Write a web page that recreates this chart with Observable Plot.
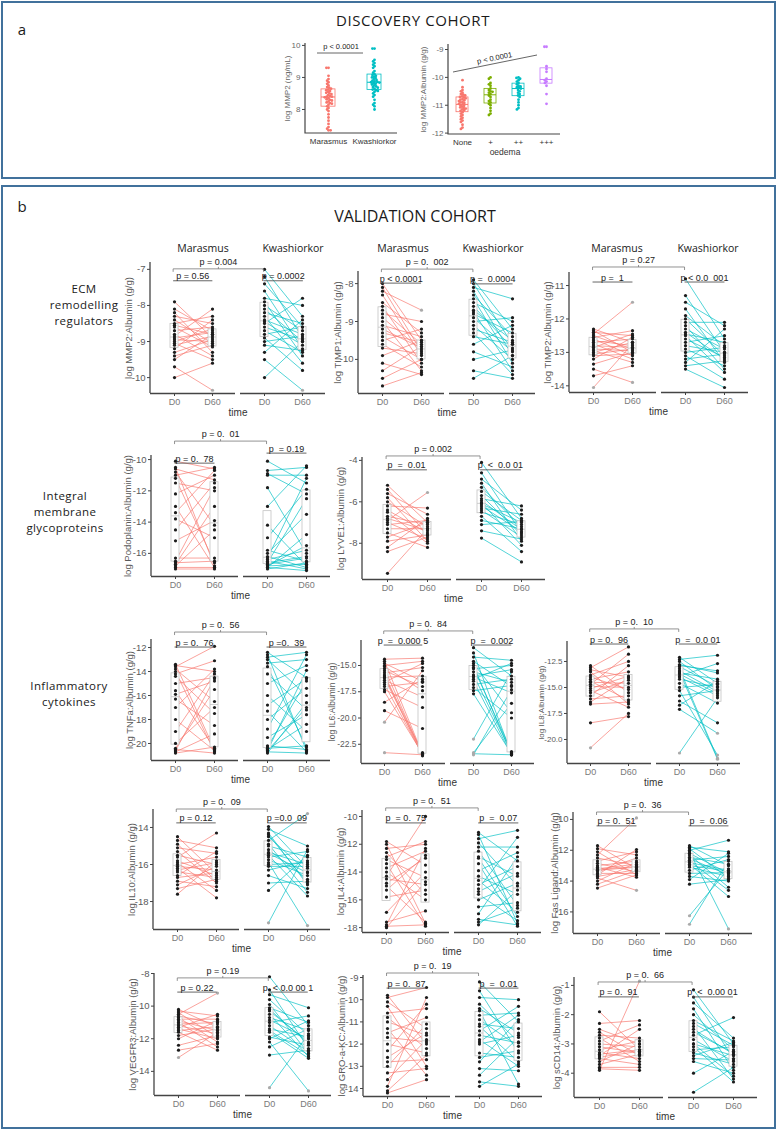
<!DOCTYPE html>
<html><head><meta charset="utf-8">
<script src="https://cdn.jsdelivr.net/npm/d3@7"></script>
<script src="https://cdn.jsdelivr.net/npm/@observablehq/plot@0.6"></script>
<style>
body{margin:0;background:#fff;}
#root{position:relative;width:777px;height:1130px;overflow:hidden;background:#fff;}
.t{position:absolute;white-space:pre;transform:translate(-50%,-50%);color:#1a1a1a;line-height:1;}
.frame{position:absolute;border:2.5px solid #41719c;box-sizing:border-box;}
svg.plot{position:absolute;overflow:visible;}
</style></head><body><div id="root"></div>
<script>
const FONT = "'Liberation Sans', Arial, sans-serif";
const HFONT = "'Open Sans', sans-serif";

// ---------- categories ----------
const GROUPS = ["Marasmus", "Kwashiorkor"];
const TIMES = ["D0", "D60"];
const GROUP_COLORS = ["#F8766D", "#00BFC4"];
const OEDEMA = ["None", "+", "++", "+++"];
const OEDEMA_COLORS = ["#F8766D", "#7CAE00", "#00BFC4", "#C77CFF"];

// ---------- panel a: discovery cohort ----------
const A_MMP2_MAR = [9.3,9.3,9.05,8.95,8.9,8.85,8.8,8.75,8.7,8.68,8.65,8.62,8.6,8.58,8.55,8.52,8.5,8.48,8.45,8.42,8.4,8.4,8.38,8.35,8.32,8.3,8.28,8.25,8.22,8.2,8.18,8.15,8.1,8.05,8.0,7.95,7.85,7.75,7.65,7.55,7.45,7.4,7.35,7.35];
const A_MMP2_KWA = [9.9,9.9,9.55,9.5,9.45,9.4,9.35,9.3,9.2,9.15,9.1,9.08,9.05,9.02,9.0,8.98,8.95,8.92,8.9,8.88,8.86,8.85,8.84,8.82,8.8,8.78,8.75,8.72,8.7,8.68,8.65,8.62,8.6,8.58,8.55,8.5,8.45,8.4,8.3,8.2,8.15,8.1,8.0];
const A_OED_NONE = [-10.1,-10.35,-10.45,-10.5,-10.55,-10.6,-10.62,-10.65,-10.68,-10.7,-10.72,-10.75,-10.78,-10.8,-10.82,-10.85,-10.88,-10.9,-10.92,-10.95,-10.97,-11.0,-11.02,-11.05,-11.08,-11.1,-11.12,-11.15,-11.18,-11.2,-11.25,-11.3,-11.35,-11.4,-11.45,-11.5,-11.55,-11.6,-11.7,-11.8,-11.85];
const A_OED_P1 = [-10.0,-10.05,-10.2,-10.25,-10.3,-10.4,-10.45,-10.5,-10.52,-10.55,-10.6,-10.65,-10.7,-10.8,-10.85,-10.9,-10.95,-11.0,-11.1,-11.2,-11.3,-11.35];
const A_OED_P2 = [-10.0,-10.02,-10.05,-10.1,-10.15,-10.2,-10.25,-10.3,-10.32,-10.35,-10.38,-10.4,-10.45,-10.5,-10.55,-10.6,-10.65,-10.7,-10.8,-10.9,-11.0,-11.1,-11.15];
const A_OED_P3 = [-8.9,-8.9,-9.6,-9.7,-9.8,-10.05,-10.1,-10.15,-10.2,-10.3,-10.6,-10.95];

// ---------- panel b: validation cohort, [D0, D60] per child ----------
const MMP2_MAR = [[-7.9,-8.9],[-8.1,-8.7],[-8.2,-9.3],[-8.3,-8.5],[-8.4,-9.05],[-8.5,-8.3],[-8.55,-8.8],[-8.6,-9.15],[-8.7,-8.6],[-8.8,-9.4],[-8.85,-8.1],[-8.9,-8.75],[-8.95,-9.0],[-9.0,-8.65],[-9.05,-9.5],[-9.1,-8.85],[-9.2,-8.4],[-9.3,-8.95],[-9.4,-9.1],[-9.5,-8.8],[-9.7,-10.35],[-10.0,-9.6]];
const MMP2_KWA = [[-7.0,-8.3],[-7.2,-8.9],[-7.4,-8.6],[-7.6,-9.2],[-7.8,-8.0],[-7.9,-9.4],[-8.0,-8.7],[-8.1,-9.0],[-8.2,-8.5],[-8.3,-9.6],[-8.4,-8.8],[-8.45,-9.1],[-8.5,-7.8],[-8.6,-8.95],[-8.7,-9.3],[-8.8,-8.6],[-8.9,-9.8],[-9.0,-8.85],[-9.1,-9.25],[-9.3,-8.4],[-9.5,-10.35],[-10.0,-9.0]];
const TIMP1_MAR = [[-8.0,-9.5],[-8.1,-9.8],[-8.2,-8.7],[-8.3,-9.9],[-8.5,-9.3],[-8.6,-10.1],[-8.7,-9.6],[-8.8,-9.0],[-8.9,-9.75],[-9.0,-10.3],[-9.1,-9.4],[-9.2,-9.7],[-9.3,-9.55],[-9.4,-10.0],[-9.5,-9.2],[-9.6,-10.2],[-9.7,-9.85],[-9.9,-9.5],[-10.1,-10.4],[-10.3,-9.65],[-10.5,-10.0],[-10.7,-10.35]];
const TIMP1_KWA = [[-7.9,-9.2],[-8.0,-9.6],[-8.1,-8.4],[-8.2,-9.9],[-8.3,-9.4],[-8.4,-10.1],[-8.5,-9.0],[-8.6,-9.7],[-8.7,-9.5],[-8.75,-10.3],[-8.8,-9.3],[-8.9,-9.8],[-9.0,-8.9],[-9.1,-10.0],[-9.2,-9.55],[-9.3,-10.4],[-9.4,-9.6],[-9.6,-9.1],[-9.8,-10.2],[-10.0,-9.75],[-10.3,-10.5],[-10.5,-9.9]];
const TIMP2_MAR = [[-12.3,-12.7],[-12.35,-13.0],[-12.4,-12.5],[-12.45,-11.5],[-12.5,-12.9],[-12.55,-12.35],[-12.6,-13.1],[-12.65,-12.8],[-12.7,-12.6],[-12.75,-13.2],[-12.8,-12.85],[-12.85,-12.45],[-12.9,-12.95],[-12.95,-13.3],[-13.0,-12.7],[-13.05,-12.9],[-13.1,-13.05],[-13.2,-12.55],[-13.35,-13.0],[-13.5,-13.9],[-13.7,-13.4],[-14.05,-12.75]];
const TIMP2_KWA = [[-10.8,-12.6],[-11.3,-13.0],[-11.5,-12.2],[-11.7,-13.3],[-11.9,-12.8],[-12.0,-13.1],[-12.1,-12.1],[-12.2,-13.5],[-12.3,-12.9],[-12.4,-13.2],[-12.45,-12.7],[-12.5,-13.6],[-12.6,-13.15],[-12.7,-12.5],[-12.8,-13.0],[-12.9,-13.4],[-13.0,-12.85],[-13.1,-13.8],[-13.2,-13.05],[-13.3,-12.3],[-13.4,-13.25],[-13.5,-14.05]];
const PODO_MAR = [[-10.1,-10.6],[-10.5,-16.8],[-10.6,-11.3],[-10.8,-14.2],[-11.0,-10.5],[-11.2,-16.6],[-11.5,-12.0],[-12.2,-11.0],[-13.0,-16.9],[-13.4,-10.7],[-13.8,-15.0],[-14.5,-11.5],[-15.2,-13.9],[-16.3,-16.3],[-16.5,-11.8],[-16.6,-16.5],[-16.8,-14.5],[-16.9,-16.9],[-17.0,-17.0],[-16.7,-13.0]];
const PODO_KWA = [[-10.1,-11.5],[-10.7,-10.5],[-10.9,-12.2],[-11.0,-11.0],[-11.8,-16.0],[-13.0,-10.4],[-14.2,-16.8],[-15.0,-11.9],[-15.8,-16.5],[-16.0,-13.5],[-16.2,-16.9],[-16.3,-11.2],[-16.4,-15.8],[-16.5,-17.0],[-16.6,-12.5],[-16.7,-16.3],[-16.8,-16.7],[-16.9,-14.8],[-17.0,-16.6],[-16.9,-17.1],[-16.6,-16.2],[-16.8,-15.5]];
const LYVE_MAR = [[-5.2,-7.0],[-5.4,-7.6],[-5.6,-6.6],[-5.8,-7.9],[-6.0,-7.2],[-6.2,-6.3],[-6.4,-7.5],[-6.5,-8.0],[-6.7,-7.1],[-6.8,-7.4],[-6.9,-5.55],[-7.0,-7.8],[-7.1,-6.9],[-7.3,-7.3],[-7.5,-8.2],[-7.7,-7.0],[-7.9,-7.6],[-8.2,-6.8],[-8.4,-7.7],[-9.45,-7.3]];
const LYVE_KWA = [[-4.1,-6.8],[-4.6,-7.5],[-4.9,-6.4],[-5.1,-7.9],[-5.3,-7.2],[-5.5,-6.9],[-5.7,-7.6],[-5.85,-6.2],[-5.95,-7.35],[-6.05,-8.1],[-6.1,-7.0],[-6.2,-7.45],[-6.3,-6.6],[-6.4,-7.7],[-6.5,-7.1],[-6.7,-8.4],[-6.9,-7.3],[-7.1,-6.95],[-7.4,-7.8],[-7.75,-8.9]];
const TNF_MAR = [[-13.4,-20.5],[-13.5,-14.0],[-13.6,-11.9],[-13.8,-16.5],[-14.0,-20.7],[-14.2,-13.1],[-14.4,-17.5],[-15.0,-14.5],[-15.6,-20.4],[-15.9,-14.8],[-16.3,-18.5],[-17.0,-13.8],[-18.0,-20.6],[-19.0,-14.2],[-20.0,-17.0],[-20.4,-15.5],[-20.5,-20.8],[-20.6,-14.6],[-20.7,-19.2],[-20.8,-20.3]];
const TNF_KWA = [[-12.4,-14.5],[-12.6,-20.6],[-12.8,-12.4],[-13.0,-16.0],[-13.3,-13.0],[-13.6,-20.3],[-14.2,-17.2],[-15.0,-13.5],[-16.0,-19.0],[-16.8,-14.6],[-17.3,-20.7],[-18.0,-15.4],[-18.8,-12.6],[-19.5,-17.6],[-20.2,-20.5],[-20.3,-14.8],[-20.5,-18.4],[-20.6,-13.9],[-20.7,-20.8],[-20.8,-16.6],[-20.4,-20.2],[-20.6,-17.0]];
const IL6_MAR = [[-14.4,-14.3],[-14.6,-23.4],[-14.8,-16.5],[-15.0,-14.6],[-15.3,-23.5],[-15.5,-17.0],[-15.7,-15.2],[-15.9,-23.3],[-16.1,-16.0],[-16.2,-23.4],[-16.4,-18.0],[-16.6,-14.8],[-16.8,-23.5],[-17.0,-16.6],[-17.3,-19.0],[-17.5,-23.4],[-18.5,-16.3],[-19.3,-21.0],[-20.4,-15.5],[-16.0,-23.6],[-15.1,-17.4],[-23.3,-23.5]];
const IL6_KWA = [[-13.3,-16.0],[-13.8,-23.4],[-14.2,-14.5],[-14.6,-17.0],[-15.0,-23.5],[-15.3,-15.0],[-15.6,-16.6],[-15.9,-23.3],[-16.1,-17.6],[-16.3,-14.8],[-16.5,-23.5],[-16.8,-16.3],[-17.1,-20.0],[-17.4,-16.9],[-17.7,-23.4],[-22.0,-15.6],[-23.5,-17.3],[-23.4,-23.5],[-14.8,-19.5],[-16.0,-15.4],[-15.2,-23.2],[-23.3,-18.6]];
const IL8_MAR = [[-12.9,-15.5],[-13.1,-11.1],[-13.3,-14.0],[-13.5,-16.6],[-13.8,-12.5],[-14.0,-15.2],[-14.2,-13.5],[-14.4,-16.2],[-14.5,-14.6],[-14.7,-11.8],[-14.9,-15.0],[-15.1,-13.9],[-15.3,-16.9],[-15.5,-14.3],[-15.8,-12.9],[-16.1,-15.8],[-16.4,-14.1],[-16.6,-16.4],[-18.4,-17.8],[-20.8,-17.5]];
const IL8_KWA = [[-12.1,-14.6],[-12.3,-11.9],[-12.5,-15.2],[-12.8,-13.6],[-13.0,-14.9],[-13.2,-21.8],[-13.4,-15.4],[-13.6,-14.2],[-13.7,-15.6],[-13.9,-12.7],[-14.2,-15.0],[-14.6,-16.5],[-15.0,-14.7],[-15.3,-21.5],[-15.8,-15.3],[-16.3,-18.4],[-16.7,-14.4],[-17.1,-19.4],[-21.3,-16.0],[-12.9,-13.4],[-14.0,-15.8],[-13.5,-21.9]];
const IL10_MAR = [[-14.5,-16.5],[-14.7,-15.1],[-14.9,-16.9],[-15.1,-15.4],[-15.3,-17.0],[-15.5,-16.0],[-15.6,-14.3],[-15.8,-16.6],[-15.9,-17.4],[-16.0,-15.6],[-16.1,-16.3],[-16.2,-17.8],[-16.3,-15.9],[-16.4,-16.7],[-16.6,-15.3],[-16.7,-16.45],[-16.9,-17.2],[-17.1,-16.1],[-17.3,-16.8],[-17.6,-15.8]];
const IL10_KWA = [[-13.95,-16.2],[-14.1,-15.0],[-14.3,-17.1],[-14.5,-16.4],[-14.7,-13.25],[-14.9,-17.5],[-15.0,-15.6],[-15.2,-16.8],[-15.35,-16.0],[-15.5,-17.7],[-15.6,-15.3],[-15.75,-16.6],[-15.9,-19.3],[-16.1,-16.1],[-16.3,-15.8],[-16.6,-17.3],[-17.0,-16.9],[-17.4,-15.5],[-19.15,-15.2],[-15.4,-16.45],[-14.4,-17.0],[-16.0,-15.9]];
const IL4_MAR = [[-11.8,-13.5],[-12.0,-17.7],[-12.3,-12.0],[-12.6,-15.6],[-12.9,-11.8],[-13.1,-14.4],[-13.4,-17.9],[-13.7,-12.5],[-14.0,-16.0],[-14.3,-10.0],[-14.5,-14.9],[-14.8,-13.0],[-15.0,-17.6],[-15.3,-12.8],[-15.8,-15.3],[-16.9,-14.0],[-17.6,-16.8],[-17.8,-12.3],[-17.9,-17.8],[-18.0,-14.7]];
const IL4_KWA = [[-11.15,-13.2],[-11.3,-17.7],[-11.6,-11.0],[-11.9,-15.0],[-12.2,-12.2],[-12.5,-16.4],[-12.9,-14.3],[-13.4,-17.9],[-13.9,-12.6],[-14.3,-15.6],[-14.6,-16.9],[-14.9,-13.6],[-15.2,-11.5],[-15.6,-17.5],[-16.0,-14.8],[-16.5,-16.2],[-17.0,-12.9],[-17.4,-17.8],[-17.8,-15.3],[-17.6,-16.6],[-13.0,-17.2],[-15.4,-14.1]];
const FAS_MAR = [[-11.7,-13.2],[-11.9,-12.3],[-12.1,-13.6],[-12.3,-9.9],[-12.5,-13.0],[-12.7,-12.1],[-12.85,-13.4],[-13.0,-12.7],[-13.1,-13.75],[-13.2,-12.9],[-13.3,-13.1],[-13.4,-12.5],[-13.5,-13.5],[-13.6,-11.95],[-13.7,-13.25],[-13.8,-14.6],[-14.0,-12.8],[-14.2,-13.3],[-14.45,-13.6],[-13.25,-13.05]];
const FAS_KWA = [[-11.7,-13.0],[-11.8,-12.1],[-11.9,-13.8],[-12.0,-11.35],[-12.2,-13.5],[-12.3,-14.4],[-12.45,-12.9],[-12.55,-13.6],[-12.65,-12.4],[-12.8,-13.3],[-12.9,-15.0],[-13.1,-13.7],[-13.3,-12.6],[-13.5,-13.45],[-13.7,-14.0],[-13.9,-12.2],[-14.2,-13.9],[-16.25,-13.2],[-16.8,-12.7],[-12.1,-17.1],[-12.7,-14.6],[-13.0,-13.35]];
const VEG_MAR = [[-10.2,-11.3],[-10.3,-10.6],[-10.4,-11.9],[-10.5,-9.2],[-10.6,-11.1],[-10.7,-12.2],[-10.8,-10.8],[-10.9,-11.5],[-11.0,-12.5],[-11.1,-11.0],[-11.2,-11.7],[-11.3,-10.5],[-11.4,-12.0],[-11.5,-11.25],[-11.6,-12.7],[-11.8,-11.4],[-12.0,-10.9],[-12.4,-11.8],[-12.7,-12.3],[-13.15,-11.6]];
const VEG_KWA = [[-8.2,-11.2],[-9.0,-12.6],[-9.3,-10.1],[-9.6,-11.8],[-9.9,-12.9],[-10.1,-11.0],[-10.3,-12.2],[-10.5,-13.1],[-10.7,-11.5],[-10.85,-12.0],[-11.0,-10.6],[-11.2,-12.8],[-11.4,-11.9],[-11.6,-13.2],[-11.9,-12.4],[-12.2,-15.2],[-12.5,-11.4],[-13.0,-12.7],[-15.0,-11.7],[-11.5,-13.0],[-10.2,-12.3],[-12.0,-10.9]];
const GRO_MAR = [[-9.8,-12.0],[-9.9,-9.45],[-10.1,-11.3],[-10.3,-13.0],[-10.6,-10.4],[-10.8,-12.2],[-11.0,-11.6],[-11.3,-13.4],[-11.5,-10.8],[-11.7,-11.9],[-12.0,-12.4],[-12.3,-10.2],[-12.6,-11.5],[-12.8,-12.7],[-13.0,-11.1],[-13.3,-13.1],[-13.6,-11.8],[-13.9,-9.9],[-14.1,-12.5],[-14.2,-13.6]];
const GRO_KWA = [[-9.2,-11.0],[-9.6,-12.4],[-9.9,-10.0],[-10.2,-11.9],[-10.5,-13.8],[-10.7,-10.6],[-10.9,-12.1],[-11.1,-11.3],[-11.2,-12.8],[-11.4,-10.3],[-11.6,-11.95],[-11.8,-13.0],[-12.0,-11.6],[-12.4,-12.6],[-12.8,-10.9],[-13.1,-13.2],[-13.4,-11.7],[-13.7,-13.9],[-13.9,-12.9],[-10.4,-11.5],[-11.9,-10.7],[-12.6,-12.3]];
const SCD_MAR = [[-1.9,-3.2],[-2.3,-2.2],[-2.5,-3.0],[-2.6,-3.4],[-2.7,-2.8],[-2.8,-3.6],[-2.9,-2.35],[-3.0,-3.1],[-3.1,-3.3],[-3.2,-2.9],[-3.3,-3.5],[-3.35,-3.2],[-3.4,-2.5],[-3.45,-3.25],[-3.5,-3.7],[-3.6,-3.0],[-3.7,-3.35],[-3.8,-3.8],[-3.9,-0.85],[-3.85,-3.9]];
const SCD_KWA = [[-1.15,-3.0],[-1.4,-3.5],[-1.6,-2.8],[-1.8,-3.9],[-2.0,-3.2],[-2.2,-2.9],[-2.4,-4.2],[-2.6,-3.3],[-2.7,-2.1],[-2.85,-3.6],[-3.0,-3.4],[-3.1,-4.3],[-3.2,-3.1],[-3.3,-3.7],[-3.4,-2.95],[-3.5,-3.55],[-3.6,-4.0],[-4.0,-3.25],[-4.65,-3.8],[-2.5,-3.35],[-3.0,-4.1],[-2.3,-3.05]];

// ---------- layout of panel b charts ----------
const fmt0 = d => String(d), fmt1 = d => d.toFixed(1);
const PANELS = [
 {left:150,right:326,top:262,bottom:393,domain:[-10.44,-6.81],ticks:[-7,-8,-9,-10],label:"log MMP2:Albumin (g/g)",data:[MMP2_MAR,MMP2_KWA],yB:-7.0,yW:[-7.33,-7.33],pB:"p = 0.004",pW:["p = 0.56","p = 0.0002"]},
 {left:358,right:536,top:271,bottom:393,domain:[-10.9,-7.68],ticks:[-8,-9,-10],lo:24.5,label:"log TIMP1:Albumin (g/g)",data:[TIMP1_MAR,TIMP1_KWA],yB:-7.63,yW:[-8.0,-8.02],pB:"p = 0.  002",pW:["p < 0.0001","p =  0.0004"]},
 {left:569,right:748,top:272,bottom:392,domain:[-14.2,-10.61],ticks:[-11,-12,-13,-14],label:"log TIMP2:Albumin (g/g)",data:[TIMP2_MAR,TIMP2_KWA],yB:-10.46,yW:[-10.91,-10.91],pB:"p = 0.27",pW:["p =  1","p < 0.0  001"]},
 {left:151,right:330,top:455,bottom:576,domain:[-17.48,-9.74],ticks:[-10,-12,-14,-16],lo:27.5,label:"log Podoplanin:Albumin (g/g)",data:[PODO_MAR,PODO_KWA],yB:-8.85,yW:[-10.26,-9.62],pB:"p = 0.  01",pW:["p = 0.  78","p  = 0.19"]},
 {left:362,right:545,top:457,bottom:579,domain:[-9.75,-3.86],ticks:[-4,-6,-8],label:"log LYVE1:Albumin (g/g)",data:[LYVE_MAR,LYVE_KWA],yB:-3.81,yW:[-4.48,-4.48],pB:"p = 0.002",pW:["p  =  0.01","p  <  0.0 01"]},
 {left:151,right:330,top:639,bottom:760,domain:[-21.42,-11.33],ticks:[-12,-14,-16,-18,-20],label:"log TNFa:Albumin (g/g)",data:[TNF_MAR,TNF_KWA],yB:-10.75,yW:[-12,-12],pB:"p = 0.  56",pW:["p = 0.  76","p =0.  39"]},
 {left:361,right:534,top:640,bottom:763,domain:[-24.33,-12.62],ticks:[-15,-17.5,-20,-22.5],fmt:fmt1,fs:8.5,lo:33,label:"log IL6:Albumin (g/g)",data:[IL6_MAR,IL6_KWA],yB:-11.76,yW:[-13.1,-13.1],pB:"p = 0.  84",pW:["p  =  0.000 5","p  =  0.002"]},
 {left:567,right:740,top:641,bottom:763,domain:[-22.31,-10.58],ticks:[-12.5,-15,-17.5,-20],fmt:fmt1,fs:8,lo:29,label:"log IL8:Albumin (g/g)",data:[IL8_MAR,IL8_KWA],yB:-9.42,yW:[-10.87,-10.87],pB:"p = 0.  10",pW:["p = 0.  96","p  =  0.0 01"]},
 {left:153,right:330,top:809,bottom:929,domain:[-19.51,-13.03],ticks:[-14,-16,-18],label:"log IL10:Albumin (g/g)",data:[IL10_MAR,IL10_KWA],yB:-13.03,yW:[-13.78,-13.78],pB:"p = 0.  09",pW:["p = 0.12","p =0.0  09"]},
 {left:362,right:542,top:810,bottom:932,domain:[-18.35,-9.57],ticks:[-10,-12,-14,-16,-18],label:"log IL4:Albumin (g/g)",data:[IL4_MAR,IL4_KWA],yB:-9.42,yW:[-10.5,-10.5],pB:"p = 0.  51",pW:["p  = 0.  75","p  =  0.07"]},
 {left:573,right:752,top:812,bottom:933,domain:[-17.4,-9.55],ticks:[-10,-12,-14,-16],lo:22,label:"log Fas Ligand:Albumin (g/g)",data:[FAS_MAR,FAS_KWA],yB:-9.55,yW:[-10.45,-10.45],pB:"p = 0.  36",pW:["p = 0.  51","p  =  0.06"]},
 {left:154,right:331,top:973,bottom:1095,domain:[-15.48,-8.0],ticks:[-8,-10,-12,-14],label:"log VEGFR3:Albumin (g/g)",data:[VEG_MAR,VEG_KWA],yB:-8.3,yW:[-9.17,-9.17],pB:"p = 0.19",pW:["p = 0.22","p  < 0.0 00 1"]},
 {left:363,right:542,top:975,bottom:1096,domain:[-14.36,-8.91],ticks:[-9,-10,-11,-12,-13,-14],label:"log GRO-a-KC:Albumin (g/g)",data:[GRO_MAR,GRO_KWA],yB:-8.82,yW:[-9.5,-9.5],pB:"p = 0.  19",pW:["p = 0.  87","p  =  0.01"]},
 {left:574,right:757,top:977,bottom:1097,domain:[-4.83,-0.73],ticks:[-1,-2,-3,-4],lo:21,label:"log sCD14:Albumin (g/g)",data:[SCD_MAR,SCD_KWA],yB:-0.9,yW:[-1.41,-1.41],pB:"p = 0.  66",pW:["p = 0.  91","p  <  0.00 01"]}
];

// ---------- helpers ----------
const root = document.getElementById("root");
function text(str, x, y, style) {
  const d = document.createElement("div");
  d.className = "t"; d.textContent = str;
  d.style.left = x + "px"; d.style.top = y + "px";
  Object.assign(d.style, style || {});
  root.appendChild(d); return d;
}
function frame(x, y, w, h) {
  const d = document.createElement("div"); d.className = "frame";
  Object.assign(d.style, {left: x + "px", top: y + "px", width: w + "px", height: h + "px"});
  root.appendChild(d);
}
function boxStats(vals) {
  const s = vals.slice().sort(d3.ascending);
  const q1 = d3.quantileSorted(s, 0.25), q3 = d3.quantileSorted(s, 0.75), r = q3 - q1;
  const inside = s.filter(v => v >= q1 - 1.5 * r && v <= q3 + 1.5 * r);
  return {q1, q3, r, lo: d3.min(inside), hi: d3.max(inside)};
}
function whisk(k) { const f = (I, V) => boxStats(Array.from(I, i => V[i]))[k]; return {reduceIndex: f, reduce: f}; }
function flagOutliers(rows, key) {
  d3.group(rows, key).forEach(arr => {
    const s = boxStats(arr.map(d => d.value));
    arr.forEach(d => { d.out = d.value < s.q1 - 1.5 * s.r || d.value > s.q3 + 1.5 * s.r; });
  });
}
function svgText(g, x, y, str, size, opts = {}) {
  return g.append("text").attr("x", x).attr("y", y).attr("text-anchor", opts.anchor || "middle")
    .attr("font-size", size).attr("font-family", FONT).attr("fill", opts.fill || "#222")
    .attr("transform", opts.transform || null).style("white-space", "pre").text(str);
}
function place(svg, x, y) { svg.classList.add("plot"); svg.style.left = x + "px"; svg.style.top = y + "px"; root.appendChild(svg); }

// ---------- paired panel (validation cohort) ----------
const GAP = 5;
function pairedPanel(p) {
  const ml = 52, mr = 4, mt = 30, mb = 34;
  const W = p.right - p.left;
  const width = ml + W + mr, height = mt + (p.bottom - p.top) + mb;
  const rows = [];
  GROUPS.forEach((g, gi) => p.data[gi].forEach((pair, i) => TIMES.forEach((t, ti) =>
    rows.push({group: g, id: g + i, time: t, value: pair[ti]}))));
  flagOutliers(rows, d => d.group + d.time);
  const fxPI = 2 * GAP / (W + GAP), xPI = 0.8, xPO = 0.49;
  const enc = {fx: "group", x: "time", y: "value"};
  const svg = Plot.plot({
    width, height, marginLeft: ml, marginRight: mr, marginTop: mt, marginBottom: mb,
    style: {fontFamily: FONT, fontSize: "9px", color: "#444", background: "none", overflow: "visible"},
    fx: {domain: GROUPS, paddingInner: fxPI, paddingOuter: 0, axis: null, label: null},
    x: {domain: TIMES, paddingInner: xPI, paddingOuter: xPO},
    y: {domain: p.domain},
    color: {domain: GROUPS, range: GROUP_COLORS},
    marks: [
      Plot.ruleY([p.domain[0]], {stroke: "#444", strokeWidth: 1.3}),
      Plot.line(rows, {...enc, z: "id", stroke: "group", strokeWidth: 0.8, strokeOpacity: 0.85}),
      Plot.ruleX(rows, Plot.groupX({y1: whisk("lo"), y2: whisk("hi")}, {...enc, stroke: "#c4c4c4", strokeWidth: 0.8})),
      Plot.barY(rows, Plot.groupX({y1: "p25", y2: "p75"}, {...enc, fill: "white", stroke: "#c4c4c4", strokeWidth: 0.8})),
      Plot.tickY(rows, Plot.groupX({y: "p50"}, {...enc, stroke: "#c4c4c4", strokeWidth: 0.8})),
      Plot.dot(rows.filter(d => !d.out), {...enc, r: 1.6, fill: "#1c1c1c"}),
      Plot.dot(rows.filter(d => d.out), {...enc, r: 1.6, fill: "#aaaaaa"}),
      Plot.axisY({ticks: p.ticks, tickFormat: p.fmt || fmt0, tickSize: 3, tickPadding: 2, fontSize: p.fs || 9.5,
        fill: "#5a5a5a", stroke: "#444", label: p.label, labelAnchor: "center", labelArrow: "none", labelOffset: p.lo || 25.5}),
      Plot.axisX({tickSize: 3, tickPadding: 2, fontSize: 9, fill: "#7a7a7a", stroke: "#444", label: null})
    ]
  });
  // replicas of the plot's band scales for annotations
  const fx = d3.scaleBand(GROUPS, [ml, ml + W]).paddingInner(fxPI).paddingOuter(0);
  const xs = d3.scaleBand(TIMES, [0, fx.bandwidth()]).paddingInner(xPI).paddingOuter(xPO);
  const y = d3.scaleLinear(p.domain, [height - mb, mt]);
  const cx = (g, t) => fx(g) + xs(t) + xs.bandwidth() / 2;
  const g = d3.select(svg).append("g");
  g.append("line").attr("x1", ml).attr("x2", ml).attr("y1", mt).attr("y2", height - mb).attr("stroke", "#444").attr("stroke-width", 1.3);
  GROUPS.forEach((gr, i) => {
    const x1 = cx(gr, "D0"), x2 = cx(gr, "D60"), yy = y(p.yW[i]);
    g.append("line").attr("x1", x1).attr("x2", x2).attr("y1", yy).attr("y2", yy).attr("stroke", "#555").attr("stroke-width", 0.9);
    svgText(g, (x1 + x2) / 2, yy - 1.5, p.pW[i], 9);
  });
  const b1 = cx(GROUPS[0], "D0"), b2 = cx(GROUPS[1], "D0"), yb = y(p.yB);
  g.append("path").attr("d", `M${b1},${yb + 3}V${yb}H${b2}V${yb + 3}M${(b1 + b2) / 2},${yb}v-2`).attr("fill", "none").attr("stroke", "#777").attr("stroke-width", 0.8);
  svgText(g, (b1 + b2) / 2, yb - 4, p.pB, 9);
  svgText(g, ml + W / 2, height - mb + 22.5, "time", 10, {fill: "#333"});
  place(svg, p.left - ml, p.top - mt);
}

// ---------- box + jitter panel (discovery cohort) ----------
function boxJitter(p) {
  const ml = 40, mr = 4, mt = 10, mb = 24;
  const W = p.right - p.left;
  const width = ml + W + mr, height = mt + (p.bottom - p.top) + mb;
  const rows = [];
  p.cats.forEach((c, i) => p.data[i].forEach(v => rows.push({cat: c, k: "k", value: v})));
  const enc = {fx: "cat", x: "k", y: "value"};
  const svg = Plot.plot({
    width, height, marginLeft: ml, marginRight: mr, marginTop: mt, marginBottom: mb,
    style: {fontFamily: FONT, fontSize: "8px", color: "#333", background: "none", overflow: "visible"},
    fx: {domain: p.cats, padding: 0, axis: "bottom", label: null, tickSize: 0, tickPadding: 5},
    x: {domain: ["k"], padding: p.boxPad, axis: null},
    y: {domain: p.domain},
    color: {domain: p.cats, range: p.colors},
    marks: [
      Plot.ruleX(rows, Plot.groupX({y1: whisk("lo"), y2: whisk("hi")}, {...enc, stroke: "cat", strokeWidth: 0.8})),
      Plot.barY(rows, Plot.groupX({y1: "p25", y2: "p75"}, {...enc, fill: "white", stroke: "cat", strokeWidth: 0.8})),
      Plot.tickY(rows, Plot.groupX({y: "p50"}, {...enc, stroke: "cat", strokeWidth: 1})),
      // beeswarm grows to one side from the facet middle; dx re-centres it on the box
      Plot.dot(rows, Plot.dodgeX({anchor: "middle", padding: -0.7}, {fx: "cat", y: "value", r: 1.4, fill: "cat", dx: p.jdx})),
      Plot.axisY({ticks: p.ticks, tickFormat: fmt0, tickSize: 3, tickPadding: 2, fontSize: 8, fill: "#666", stroke: "#444",
        label: p.label, labelAnchor: "center", labelArrow: "none", labelOffset: p.lo})
    ]
  });
  const g = d3.select(svg).append("g");
  g.append("path").attr("d", `M${ml},${mt}V${height - mb}H${ml + W}`).attr("fill", "none").attr("stroke", "#444").attr("stroke-width", 1.2);
  place(svg, p.left - ml, p.top - mt);
  return {svg, g, ml, mt, left: p.left, top: p.top};
}

// ---------- page ----------
frame(1, 1, 775, 178);
frame(1, 185, 775, 944);
text("a", 22, 29, {fontFamily: HFONT, fontSize: "15px"});
text("DISCOVERY COHORT", 413, 20, {fontFamily: HFONT, fontSize: "15px", letterSpacing: "0.6px"});
text("b", 22, 206, {fontFamily: HFONT, fontSize: "15px"});
text("VALIDATION COHORT", 415, 216, {fontFamily: HFONT, fontSize: "16px"});
[[203, "Marasmus"], [293, "Kwashiorkor"], [403, "Marasmus"], [493, "Kwashiorkor"], [617, "Marasmus"], [708, "Kwashiorkor"]]
  .forEach(([x, s]) => text(s, x, 248, {fontFamily: HFONT, fontSize: "10.5px"}));
const rowLab = {fontFamily: HFONT, fontSize: "11.5px", letterSpacing: "0.4px"};
[["ECM", 289], ["remodelling", 305], ["regulators", 321]].forEach(([s, y]) => text(s, 84, y, rowLab));
[["Integral", 496], ["membrane", 512], ["glycoproteins", 528]].forEach(([s, y]) => text(s, 65, y, rowLab));
[["Inflammatory", 686], ["cytokines", 702]].forEach(([s, y]) => text(s, 69, y, rowLab));

const A1 = boxJitter({left: 305, right: 397, top: 43, bottom: 133, domain: [7.25, 10.06], ticks: [8, 9, 10],
  label: "log MMP2 (ng/mL)", lo: 21, cats: GROUPS, colors: GROUP_COLORS, data: [A_MMP2_MAR, A_MMP2_KWA], boxPad: 0.53, jdx: -7});
const A2 = boxJitter({left: 448, right: 560, top: 44, bottom: 134, domain: [-12.05, -8.82], ticks: [-9, -10, -11, -12],
  label: "log MMP2:Albumin (g/g)", lo: 28, cats: OEDEMA, colors: OEDEMA_COLORS, data: [A_OED_NONE, A_OED_P1, A_OED_P2, A_OED_P3], boxPad: 0.4, jdx: -6});
// annotations in panel a (converted from page to plot coordinates)
{
  const o = A1, X = v => v - (o.left - o.ml), Y = v => v - (o.top - o.mt);
  o.g.append("line").attr("x1", X(317)).attr("x2", X(363)).attr("y1", Y(53)).attr("y2", Y(53)).attr("stroke", "#555").attr("stroke-width", 0.9);
  svgText(o.g, X(341), Y(49), "p < 0.0001", 7.5);
  const q = A2, X2 = v => v - (q.left - q.ml), Y2 = v => v - (q.top - q.mt);
  q.g.append("line").attr("x1", X2(453)).attr("x2", X2(537)).attr("y1", Y2(72)).attr("y2", Y2(55)).attr("stroke", "#555").attr("stroke-width", 0.9);
  svgText(q.g, 0, 0, "p < 0.0001", 7.5, {transform: `translate(${X2(495)},${Y2(60.5)}) rotate(-11.4)`});
}
text("oedema", 505, 152, {fontFamily: FONT, fontSize: "8.5px", color: "#333"});

PANELS.forEach(pairedPanel);
</script></body></html>
